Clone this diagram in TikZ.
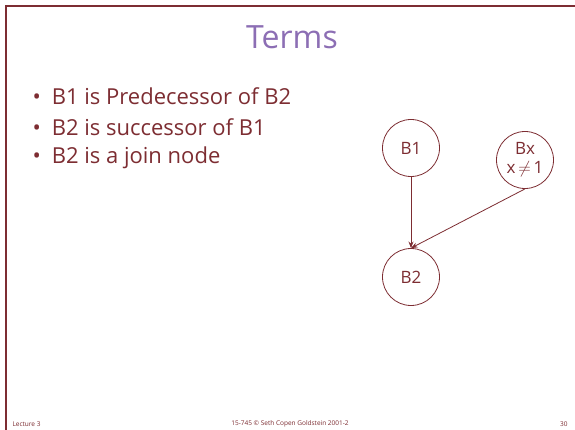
\documentclass[tikz,border=0pt]{standalone}
\usepackage{fontspec}
\setmainfont{Open Sans}
\usepackage{xcolor}
\usetikzlibrary{arrows.meta, backgrounds}
\definecolor{slidered}{RGB}{125,45,50}
\definecolor{titlepurple}{RGB}{140,110,180}

\begin{document}
\begin{tikzpicture}[x=1pt, y=-1pt, background rectangle/.style={fill=white}, show background rectangle]
\useasboundingbox (0,0) rectangle (575,430);
% slide frame
\draw[slidered, line width=2.5pt] (5,6) -- (575,6);
\draw[slidered, line width=2.5pt] (6,6) -- (6,430);

\node[titlepurple, font=\fontsize{32}{36}\selectfont] (title) at (292,37) {Terms};

\begin{scope}[every node/.style={anchor=west, text=slidered, font=\fontsize{22}{26}\selectfont}]
  \node (b1) at (29,96) {\textbullet\hspace{11pt}B1 is Predecessor of B2};
  \node (b2) at (29,127) {\textbullet\hspace{11pt}B2 is successor of B1};
  \node (b3) at (29,158) {\textbullet\hspace{11pt}B2 is a join node};
\end{scope}

\begin{scope}[every node/.style={circle, draw=slidered, thick, text=slidered, minimum size=57pt, inner sep=0pt, align=center, font=\fontsize{17}{19}\selectfont}]
  \node (B1) at (411,148) {B1};
  \node (Bx) at (525,160) {Bx\\x\,$\neq$\,1};
  \node (B2) at (411,277) {B2};
\end{scope}

\begin{scope}[>={Stealth[slidered]},
              every edge/.style={draw=slidered, thick}]
  \path[->] (B1) edge (B2);
  \path[->] (Bx.south) edge (B2.north);
\end{scope}

% footer
\begin{scope}[every node/.style={text=slidered, font=\fontsize{6.5}{8}\selectfont}]
  \node[anchor=west] (lect) at (9,424) {Lecture 3};
  \node (copy) at (290,424) {15-745 \copyright\ Seth Copen Goldstein 2001-2};
  \node[anchor=east] (page) at (571,424) {30};
\end{scope}
\end{tikzpicture}
\end{document}
